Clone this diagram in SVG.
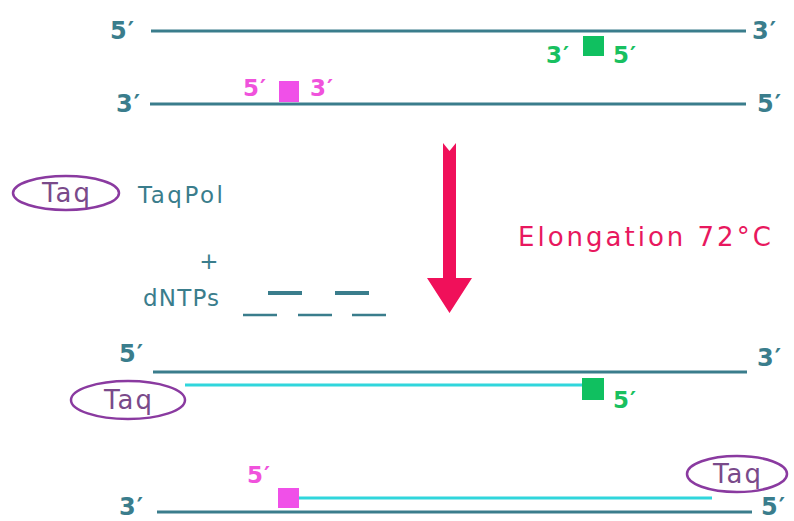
<svg xmlns="http://www.w3.org/2000/svg" width="794" height="521" viewBox="0 0 794 521">
<style>
text{font-family:"DejaVu Sans","Liberation Sans",sans-serif}
.lbl{font-size:24px;font-weight:bold;fill:#3a7d8c;letter-spacing:1px}
.pk{font-size:23px;font-weight:bold;fill:#f052dc;letter-spacing:1px}
.gr{font-size:23px;font-weight:bold;fill:#18c060;letter-spacing:1px}
.strand{stroke:#3a7d8c;stroke-width:3;fill:none}
.new{stroke:#30d6dc;stroke-width:3;fill:none}
.taq{fill:none;stroke:#8a3aa0;stroke-width:2.5}
.taqt{font-size:26px;fill:#7a4a8a;letter-spacing:2px}
.teal{font-size:23px;fill:#3a7d8c}
.dash{stroke:#3a7d8c;fill:none}
</style>
<g id="top-strand-1">
<line class="strand" x1="151" y1="31" x2="746" y2="31"/>
<text class="lbl" x="110" y="39">5′</text>
<text class="lbl" x="752" y="39">3′</text>
</g>
<g id="primer-green-top">
<rect x="583" y="36" width="21" height="20" fill="#10c060"/>
<text class="gr" x="546" y="63">3′</text>
<text class="gr" x="613" y="63">5′</text>
</g>
<g id="top-strand-2">
<line class="strand" x1="150" y1="104" x2="746" y2="104"/>
<text class="lbl" x="116" y="112">3′</text>
<text class="lbl" x="757" y="112">5′</text>
</g>
<g id="primer-pink-top">
<rect x="279" y="81" width="20" height="21" fill="#f050e8"/>
<text class="pk" x="243" y="96">5′</text>
<text class="pk" x="310" y="96">3′</text>
</g>
<g id="taqpol">
<ellipse class="taq" cx="66" cy="193" rx="53" ry="17"/>
<text class="taqt" x="67" y="202" text-anchor="middle">Taq</text>
<text class="teal" x="138" y="203" letter-spacing="2.5">TaqPol</text>
</g>
<g id="dntps">
<text class="teal" x="209" y="269" text-anchor="middle">+</text>
<text class="teal" x="143" y="306" letter-spacing="1.2">dNTPs</text>
<line class="dash" stroke-width="4" x1="268" y1="293" x2="302" y2="293"/>
<line class="dash" stroke-width="4" x1="335" y1="293" x2="369" y2="293"/>
<line class="dash" stroke-width="2.5" x1="243" y1="315" x2="277" y2="315"/>
<line class="dash" stroke-width="2.5" x1="298" y1="315" x2="332" y2="315"/>
<line class="dash" stroke-width="2.5" x1="352" y1="315" x2="386" y2="315"/>
</g>
<g id="connectors">
<path d="M443,143 L449.5,151 L456,143 L456,278 L472,278 L449.5,313 L427,278 L443,278 Z" fill="#f0105a"/>
</g>
<g id="step-label">
<text x="518" y="246" font-size="26" fill="#e8185e" letter-spacing="3">Elongation 72°C</text>
</g>
<g id="bottom-strand-1">
<line class="strand" x1="153" y1="372" x2="747" y2="372"/>
<line class="new" x1="185" y1="385" x2="585" y2="385"/>
<rect x="582" y="378" width="22" height="22" fill="#10c060"/>
<text class="lbl" x="119" y="362">5′</text>
<text class="lbl" x="757" y="366">3′</text>
<text class="gr" x="613" y="408">5′</text>
</g>
<g id="taq-bottom-1">
<ellipse class="taq" cx="128" cy="400" rx="57" ry="19"/>
<text class="taqt" x="129" y="409" text-anchor="middle">Taq</text>
</g>
<g id="bottom-strand-2">
<line class="strand" x1="157" y1="512" x2="752" y2="512"/>
<line class="new" x1="299" y1="498" x2="712" y2="498"/>
<rect x="278" y="488" width="21" height="20" fill="#f050e8"/>
<text class="pk" x="247" y="483">5′</text>
<text class="lbl" x="119" y="515">3′</text>
<text class="lbl" x="761" y="515">5′</text>
</g>
<g id="taq-bottom-2">
<ellipse class="taq" cx="737" cy="474" rx="50" ry="18"/>
<text class="taqt" x="738" y="483" text-anchor="middle">Taq</text>
</g>
</svg>
